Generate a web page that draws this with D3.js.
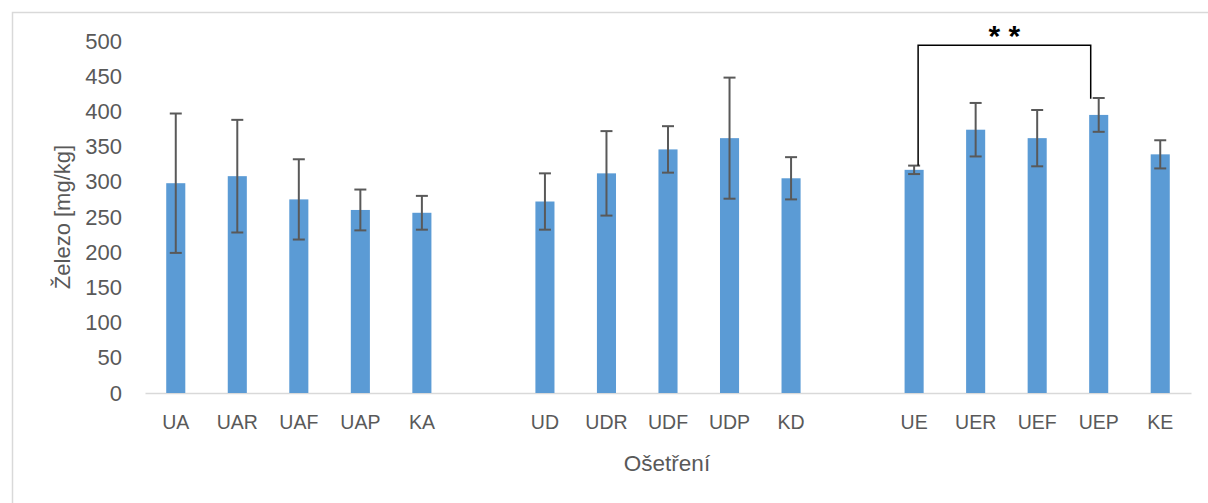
<!DOCTYPE html>
<html>
<head>
<meta charset="utf-8">
<script src="https://d3js.org/d3.v7.min.js"></script>
<style>
  body { margin: 0; background: #fff; }
  text { font-family: 'Liberation Sans', Arial, sans-serif; fill: #595959; }
</style>
</head>
<body>
<div id="chart"></div>
<script>
// categories (empty slots separate the three groups)
const categories = ['UA', 'UAR', 'UAF', 'UAP', 'KA', 'gap1',
                    'UD', 'UDR', 'UDF', 'UDP', 'KD', 'gap2',
                    'UE', 'UER', 'UEF', 'UEP', 'KE'];
const values = [298, 308, 275, 260, 256, null,
                272, 312, 346, 362, 305, null,
                317, 374, 362, 395, 339];
const errors = [99, 80, 57, 29, 24, null,
                40, 60, 33, 86, 30, null,
                6, 38, 40, 24, 20];
const yTicks = [0, 50, 100, 150, 200, 250, 300, 350, 400, 450, 500];
// significance bracket: from, to, level, and where each leg ends
const bracket = { from: 'UE', to: 'UEP', level: 494, fromEnd: 323, toEnd: 418, label: '* *' };

const width = 1208, height = 503;
const margin = { left: 145, right: 17, top: 41, bottom: 110 };

const svg = d3.select('#chart').append('svg')
  .attr('width', width).attr('height', height);

// outer frame (cut by the right and bottom edges)
svg.append('rect')
  .attr('x', 12.5).attr('y', 12.5)
  .attr('width', width).attr('height', height)
  .attr('fill', 'none').attr('stroke', '#d9d9d9').attr('stroke-width', 1.5);

const x = d3.scaleBand()
  .domain(categories)
  .range([margin.left, width - margin.right])
  .paddingInner(0.69).paddingOuter(0.345);

const y = d3.scaleLinear()
  .domain([0, 500])
  .range([height - margin.bottom, margin.top]);

// y axis labels
const yAxis = svg.append('g')
  .attr('transform', 'translate(' + (margin.left - 4) + ',0)')
  .call(d3.axisLeft(y).tickValues(yTicks).tickSize(0).tickPadding(19));
yAxis.select('.domain').remove();
yAxis.selectAll('text').style('font-size', '22px').attr('fill', '#595959');

// x axis
const xAxis = svg.append('g')
  .attr('transform', 'translate(0,' + y(0) + ')')
  .call(d3.axisBottom(x).tickSize(0).tickPadding(22)
    .tickFormat(d => d.startsWith('gap') ? '' : d));
xAxis.select('.domain').attr('stroke', '#d9d9d9').attr('stroke-width', 1.5);
xAxis.selectAll('text').style('font-size', '19.5px').attr('fill', '#595959');

const rows = categories.map((c, i) => ({ c: c, v: values[i], e: errors[i] }))
  .filter(d => d.v !== null);

// bars
svg.selectAll('rect.bar')
  .data(rows)
  .enter().append('rect')
  .attr('class', 'bar')
  .attr('x', d => x(d.c))
  .attr('y', d => y(d.v))
  .attr('width', x.bandwidth())
  .attr('height', d => y(0) - y(d.v))
  .attr('fill', '#5b9bd5');

// error bars
const eb = svg.selectAll('g.err')
  .data(rows)
  .enter().append('g')
  .attr('class', 'err')
  .attr('stroke', '#595959')
  .attr('stroke-width', 2);
const cx = d => x(d.c) + x.bandwidth() / 2;
eb.append('line')
  .attr('x1', cx).attr('x2', cx)
  .attr('y1', d => y(d.v + d.e)).attr('y2', d => y(d.v - d.e));
eb.append('line')
  .attr('x1', d => cx(d) - 6).attr('x2', d => cx(d) + 6)
  .attr('y1', d => y(d.v + d.e)).attr('y2', d => y(d.v + d.e));
eb.append('line')
  .attr('x1', d => cx(d) - 6).attr('x2', d => cx(d) + 6)
  .attr('y1', d => y(d.v - d.e)).attr('y2', d => y(d.v - d.e));

// significance bracket
const bx1 = x(bracket.from) + x.bandwidth() / 2 + 4;
const bx2 = x(bracket.to) + x.bandwidth() / 2 - 8;
svg.append('path')
  .attr('d', 'M' + bx1 + ',' + y(bracket.fromEnd) +
             'V' + y(bracket.level) +
             'H' + bx2 +
             'V' + y(bracket.toEnd))
  .attr('fill', 'none').attr('stroke', '#000').attr('stroke-width', 1.5);
svg.append('text')
  .attr('x', (bx1 + bx2) / 2)
  .attr('y', y(bracket.level) + 1)
  .attr('text-anchor', 'middle')
  .style('font-size', '30px').style('font-weight', 'bold')
  .style('fill', '#000')
  .text(bracket.label);

// axis titles
svg.append('text')
  .attr('transform', 'translate(70,' + (y(0) + y(500)) / 2 + ') rotate(-90)')
  .attr('text-anchor', 'middle')
  .style('font-size', '22px')
  .text('Železo [mg/kg]');

svg.append('text')
  .attr('x', 667)
  .attr('y', 471)
  .attr('text-anchor', 'middle')
  .style('font-size', '22.5px')
  .text('Ošetření');
</script>
</body>
</html>
